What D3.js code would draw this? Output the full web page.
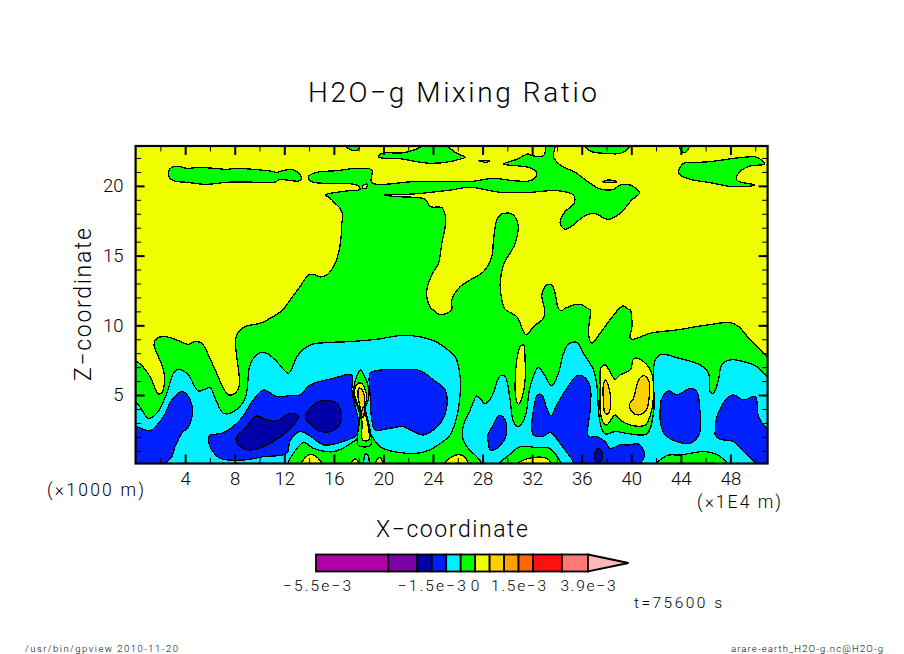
<!DOCTYPE html>
<html><head><meta charset="utf-8">
<script src="https://cdn.jsdelivr.net/npm/d3@7"></script>
<style>html,body{margin:0;padding:0;background:#fff}svg{display:block}text{font-family:Roboto,"Liberation Sans",sans-serif;font-weight:300;fill:#000}</style>
</head><body><svg id="c" width="904" height="654"></svg>
<script>
// Levels (in units of 1e-3) and colours of the H2O-g mixing ratio
const levels=[-5.5,-3,-2,-1.5,-1,-0.5,0,0.5,1,1.5,2,3,3.9];
const levelColors=["#b000a8","#7a00a8","#0000a8","#0020ff","#00f0ff","#00ff00","#f0ff00","#ffd000","#ffa000","#ff6800","#ff1010","#ff7878","#ffb8b8"];
const tipValue=5.3;
const barTicks=[-5.5,-1.5,0,1.5,3.9];
const barTickLabels=["\u22125.5e\u22123","\u22121.5e\u22123","0","1.5e\u22123","3.9e\u22123"];
const xMajor=[4,8,12,16,20,24,28,32,36,40,44,48];
const xMinor=[2,6,10,14,18,22,26,30,34,38,42,46,50];
const zMajor=[5,10,15,20];
const zMinor=[1,2,3,4,6,7,8,9,11,12,13,14,16,17,18,19,21,22];

// Contour regions, [x (1e4 m), z (1000 m)]
const greenMain=[[-1,7.4],[0.09,7.4],[1.17,6.32],[1.57,5.48],[1.84,5.08],[2.11,5.17],[2.33,5.84],[2.25,6.8],[1.84,7.75],[1.49,8.59],[1.71,9.07],[2.38,9.19],[3.32,8.95],[4.26,8.64],[4.8,8.83],[5.34,8.71],[5.88,7.87],[6.42,6.8],[7.09,5.48],[7.49,5.01],[8.03,5.13],[8.38,5.72],[8.3,6.8],[8.08,8.47],[8.16,9.31],[8.84,9.91],[10.05,10.14],[10.85,10.5],[11.53,10.86],[11.93,11.15],[12.47,11.82],[13.27,12.77],[13.95,13.61],[14.35,13.66],[14.89,13.47],[15.43,13.61],[15.97,14.21],[16.37,15.16],[16.56,16.12],[16.64,17.32],[16.72,17.91],[16.5,18.39],[16.1,18.75],[15.7,19.11],[15.35,19.35],[16.23,19.54],[17.31,19.66],[18.12,19.75],[17.85,20.06],[16.23,20.18],[14.22,20.3],[13.95,20.66],[14.62,20.97],[16.23,21.09],[17.85,21.26],[19.06,21.14],[19.06,20.23],[22.42,20.3],[26.19,20.33],[26.99,20.3],[28.88,20.54],[30.49,20.37],[31.84,20.37],[32.32,20.66],[32.32,21.02],[31.7,21.33],[29.68,21.57],[30.63,21.86],[31.7,22.29],[31.97,22.17],[32.91,22.17],[33.1,22.69],[33.1,23.5],[33.85,23.5],[33.85,22.81],[33.72,22.09],[34.26,21.5],[35.47,20.97],[36.14,20.54],[36.68,20.18],[37.49,19.78],[38.56,19.75],[39.1,20.06],[39.91,20.06],[40.66,19.51],[40.04,18.99],[39.1,18.03],[38.16,17.6],[36.95,18.03],[36.14,17.79],[35.2,17.12],[34.66,16.89],[34.26,17.32],[34.66,18.15],[35.39,18.75],[35.33,19.35],[33.99,19.66],[31.84,19.54],[29.42,19.54],[26.99,19.9],[25.38,19.7],[22.42,19.42],[20,19.35],[21.08,19.23],[22.42,19.18],[23.36,19.04],[23.77,18.51],[24.71,18.44],[24.98,17.91],[24.98,17.08],[24.71,15.88],[24.44,14.45],[23.9,13.61],[23.5,12.53],[23.55,11.82],[23.9,11.15],[24.04,11.1],[24.44,10.81],[25.11,10.86],[25.51,11.15],[25.51,11.82],[26.19,12.77],[26.99,13.25],[28.07,13.85],[28.74,14.92],[28.88,16.12],[29.15,17.55],[29.55,17.98],[30.36,17.98],[30.84,17.32],[30.63,15.88],[29.68,14.33],[29.42,13.01],[29.55,11.82],[29.82,11.15],[30.76,10.62],[31.51,9.31],[32.11,9.91],[32.91,10.5],[33,11.1],[32.78,12.18],[33.18,12.89],[33.58,12.89],[33.85,12.3],[34.12,11.22],[34.39,11.05],[34.66,11.22],[35.87,11.51],[36.46,11.22],[36.68,11.1],[36.54,9.43],[36.81,8.71],[37.49,9.43],[38.16,10.26],[38.7,10.86],[38.96,11.15],[39.37,11.39],[39.77,11.15],[39.91,11.1],[40.05,9.91],[39.91,9.07],[40.18,9],[41.53,9.43],[43.68,9.67],[46.1,10.02],[47.98,10.19],[48.66,9.91],[49.6,8.95],[50.94,7.75],[52,6.8],[52,-1],[-1,-1]];
const greenCigar=[[2.65,21.02],[2.92,21.33],[3.46,21.4],[4.13,21.26],[5.21,21.33],[6.28,21.26],[7.36,21.19],[8.16,21.26],[10.05,21.14],[10.85,21.07],[11.39,20.97],[11.93,21.11],[12.74,21.14],[13.28,20.78],[13.41,20.54],[13.14,20.35],[12.2,20.42],[11.66,20.47],[11.26,20.28],[10.05,20.26],[8.43,20.28],[7.36,20.26],[5.61,20.11],[4.13,20.26],[3.19,20.33],[2.78,20.54]];
const greenTop1=[[16.64,23.17],[17.04,22.76],[17.45,22.57],[17.9,22.57],[18.25,23.17]];
const greenTop2=[[19.6,22.09],[19.87,22.33],[21.61,22.38],[22.96,22.76],[23.36,23.05],[24.98,23.05],[25.38,22.69],[25.92,22.33],[26.59,22.05],[25.92,21.86],[25.38,21.74],[23.77,21.62],[22.69,21.74],[21.08,21.98],[20,21.98]];
const greenDash1=[[27.67,21.81],[28.55,21.81],[28.34,21.69],[27.94,21.74]];
const greenDash2=[[37.7,20.3],[38.16,20.42],[38.83,20.3],[38.29,20.23]];
const greenTop3=[[36.14,23.1],[36.68,22.5],[38.02,22.33],[39.1,22.33],[39.77,22.69],[40.04,23.1]];
const greenTop4=[[43.89,23.1],[44.08,22.45],[44.34,22.38],[44.8,23.1]];
const greenRight=[[43.81,21.02],[44.21,21.62],[44.75,21.66],[46.36,21.74],[49.05,22.05],[50.13,22.05],[50.75,21.57],[49.59,21.43],[48.92,21.14],[48.51,20.66],[48.57,20.37],[50,20.06],[48.25,19.94],[46.36,20.23],[44.75,20.47],[43.94,20.78]];
const yellowNeck=[[18.39,20.06],[18.71,20.11],[18.6,19.82],[18.33,19.82]];
const yellowSpindle=[[30.63,5.96],[30.76,7.52],[31.03,8.47],[31.3,8.59],[31.43,7.52],[31.43,6.08],[31.16,4.77],[30.89,4.34],[30.68,4.77]];
const yellowBlob=[[37.54,6.92],[37.89,7.16],[38.29,6.68],[38.7,6.13],[39.1,6.44],[39.91,6.8],[40.23,7.63],[40.98,7.4],[41.65,6.56],[41.79,5.36],[41.65,3.93],[41.12,2.85],[39.91,2.85],[39.1,3.21],[38.7,3.57],[38.02,2.85],[37.7,3.09],[37.49,3.93],[37.49,5.6]];
const orangeLeft=[[37.75,5.72],[37.94,6.08],[38.24,5.36],[38.35,4.65],[38.16,3.69],[37.89,3.69],[37.75,4.65]];
const orangeRight=[[39.83,4.29],[40.18,4.77],[40.59,6.08],[40.99,6.39],[41.39,6.08],[41.47,5.24],[41.21,3.93],[40.59,3.57],[40.05,3.81]];
const cyanLeft=[[-1,4.6],[0.09,4.41],[1.04,3.33],[1.71,3.69],[2.52,5.13],[3.05,6.56],[3.46,6.85],[4.26,6.44],[5.07,5.29],[6.01,5.53],[6.42,4.77],[7.09,3.69],[7.9,3.81],[8.84,4.77],[9.24,7.16],[9.91,7.99],[10.59,7.99],[11.39,7.4],[12.33,6.56],[12.74,7.16],[13.01,7.75],[14.08,8.59],[15.43,8.76],[17.31,8.83],[19.46,9],[21.75,9.28],[24.04,8.9],[25.38,8.11],[25.79,7.75],[26.19,6.32],[26.19,5.13],[25.92,3.45],[25.38,2.14],[24.98,1.78],[23.36,0.94],[21.89,0.82],[19.73,1.3],[18.93,2.26],[18.52,2.74],[18.25,2.26],[17.58,1.66],[15.97,0.94],[14.35,1.18],[13.55,1.59],[12.47,0.46],[12.06,-0.2],[-1,-0.5]];
const cyanRight=[[26.46,2.85],[26.99,3.93],[27.53,4.93],[27.8,4.77],[28.2,4.36],[28.74,4.89],[29.42,6.37],[29.82,6.32],[30.22,4.65],[30.49,3.09],[30.89,2.73],[31.43,3.45],[31.84,5.6],[32.51,6.99],[32.91,6.56],[33.58,5.67],[34.12,6.56],[34.53,7.99],[34.93,8.64],[35.6,8.78],[36.14,7.99],[36.95,6.8],[37.22,5.72],[37.35,3.93],[37.49,2.97],[37.89,2.21],[38.7,2.38],[39.91,2.21],[41.25,2.21],[41.79,3.69],[41.92,7.52],[42.46,7.92],[43.67,7.68],[45.56,7.16],[46.23,6.56],[46.36,5.24],[46.63,5.13],[47.03,6.08],[47.3,7.16],[47.98,7.52],[49.05,7.4],[50.13,7.04],[51.07,6.2],[52,5.5],[52,-0.5],[28.8,-0.5],[27.53,0.58],[26.73,1.3],[26.4,1.9]];
const greenBump1=[[29.1,-0.2],[30.2,0.75],[31.03,1.3],[32.2,1.25],[33.45,1.15],[34.3,-0.2]];
const greenBump2=[[41.85,-0.2],[42.87,0.66],[43.95,0.7],[45.97,0.94],[47.18,0.58],[47.9,-0.2]];
const yellowBump1=[[13.2,-0.3],[13.95,0.7],[14.49,0.66],[15.2,-0.3]];
const yellowBump2=[[17.25,-0.2],[17.72,0.42],[18.15,-0.2]];
const yellowBump3=[[19.3,-0.2],[19.6,0.5],[19.75,0.5],[20.05,-0.2]];
const yellowBump4=[[24.7,-0.2],[25.71,0.66],[26.46,0.62],[26.9,-0.2]];
const yellowBump5=[[30.4,-0.2],[31.57,0.42],[33.18,0.46],[33.65,-0.2]];
const cyanBump=[[18.45,-0.2],[18.5,0.7],[18.6,0.78],[18.75,0.7],[18.8,-0.2]];
const blue1=[[-1,3],[0.09,2.73],[1.17,2.45],[2.25,3.45],[2.92,4.65],[3.73,5.24],[4.26,4.89],[4.59,3.81],[4.26,2.73],[3.73,2.26],[3.19,1.3],[2.92,0.58],[2.38,0.1],[2.1,-0.4],[-1,-0.5]];
const blue2=[[5.93,2.07],[7.09,2.3],[8.43,3.21],[9.51,4.65],[10.32,5.36],[11.39,4.89],[12.47,4.96],[13.28,5.01],[14.08,5.72],[15.97,6.2],[17.45,6.44],[17.45,5.36],[17.72,4.17],[17.98,3.21],[17.98,2.26],[17.45,1.9],[15.16,1.42],[14.35,1.9],[13.28,2.38],[12.47,1.73],[12.2,0.82],[10.32,0.58],[8.7,0.34],[6.82,0.46],[6.15,1.06],[5.93,1.54]];
const blue3=[[18.93,6.56],[19.46,6.75],[21.62,6.85],[22.96,6.75],[24.04,6.08],[24.98,5.36],[25.11,4.17],[24.58,2.97],[23.23,2.14],[22.42,2.38],[21.62,2.73],[20.54,2.62],[19.33,2.5],[19.06,3.21],[18.93,4.89]];
const blue4=[[28.42,2.14],[28.88,2.85],[29.28,3.52],[29.63,3.45],[29.95,2.73],[29.82,1.9],[29.15,1.18],[28.61,1.06],[28.47,1.54]];
const blue5=[[31.97,2.62],[32.11,3.93],[32.43,5.01],[32.78,5.01],[33.18,4.05],[33.53,3.5],[33.99,4.29],[34.8,5.48],[35.6,6.39],[36.14,6.32],[36.68,5.6],[36.68,3.93],[36.54,2.02],[37.22,2.02],[37.89,1.66],[38.29,1.18],[39.1,1.42],[39.77,1.42],[40.58,1.49],[40.98,1.06],[41.06,0.58],[40.71,0.06],[40.58,-0.3],[35.87,-0.3],[35.06,0.58],[34.26,1.54],[33.72,2.14],[33.45,2.3],[32.78,2.02],[32.11,2.14]];
const blue6=[[42.34,4.17],[42.47,4.77],[43.01,5.29],[43.68,5.01],[44.76,5.48],[45.29,5.24],[45.51,4.17],[45.51,2.26],[44.76,1.54],[43.68,1.66],[42.74,2.14],[42.39,2.85]];
const blue7=[[46.77,2.38],[46.91,3.45],[47.72,4.77],[48.25,5.01],[49.06,4.65],[50,4.89],[50.27,3.45],[50.94,2.62],[52,2.3],[52,-0.5],[50.14,-0.13],[50,0.15],[49.06,0.94],[48.25,1.66],[47.18,1.83],[46.77,2.14]];
const navy1=[[8.11,1.9],[8.97,2.73],[9.78,3.5],[10.59,3.21],[11.39,3.14],[12.47,3.69],[13.14,3.5],[12.74,2.85],[12.06,2.26],[10.32,1.3],[9.24,1.06],[8.43,1.3]];
const navy2=[[13.68,3.4],[14.76,4.53],[15.97,4.53],[16.51,4.05],[16.51,2.97],[15.7,2.38],[14.76,2.45],[14.08,2.97]];
const navy3=[[37.03,0.7],[37.3,1.18],[37.62,0.94],[37.7,0.58],[37.35,0.15],[37.08,0.34]];
const spikeGreen=[[17.62,5.6],[17.89,6.43],[18.16,6.79],[18.43,6.43],[18.75,5.72],[18.81,4.76],[18.54,4.04],[18.81,2.97],[18.97,1.41],[17.95,1.41],[18.11,3.57],[17.89,4.16],[17.62,4.88]];
const spikeYellow=[[17.68,5.43],[17.95,5.84],[18.22,5.84],[18.54,5.36],[18.65,4.76],[18.43,4.04],[18.7,3.09],[18.81,1.77],[18.32,1.77],[18.27,3.09],[18.11,3.8],[17.89,4.4],[17.68,5]];
const spikeOrange=[[17.95,4.88],[18,5.48],[18.22,5.43],[18.48,4.88],[18.48,4.28],[18.35,3.45],[18.22,3.57],[18.11,4.16]];
const spikeCore=[[18.27,3.92],[18.43,4.16],[18.38,3.37],[18.27,3.45]];

// paint order: [region, mixing-ratio value inside it]
const regions=[[greenMain,-0.25],[greenCigar,-0.25],[greenTop1,-0.25],[greenTop2,-0.25],[greenDash1,-0.25],[greenDash2,-0.25],[greenTop3,-0.25],[greenTop4,-0.25],[greenRight,-0.25],[yellowNeck,0.25],[yellowSpindle,0.25],[yellowBlob,0.25],[orangeLeft,0.75],[orangeRight,0.75],[cyanLeft,-0.75],[cyanRight,-0.75],[greenBump1,-0.25],[greenBump2,-0.25],[yellowBump1,0.25],[yellowBump2,0.25],[yellowBump3,0.25],[yellowBump4,0.25],[yellowBump5,0.25],[cyanBump,-0.75],[blue1,-1.25],[blue2,-1.25],[blue3,-1.25],[blue4,-1.25],[blue5,-1.25],[blue6,-1.25],[blue7,-1.25],[navy1,-1.75],[navy2,-1.75],[navy3,-1.75],[spikeGreen,-0.25],[spikeYellow,0.25],[spikeOrange,0.75],[spikeCore,1.25]];

const svg=d3.select("#c");
const x=d3.scaleLinear().domain([0,51]).range([135.6,767.6]);
const y=d3.scaleLinear().domain([0.09,22.86]).range([463.5,146]);
const color=d3.scaleThreshold().domain(levels.slice(1)).range(levelColors);

svg.append("defs").append("clipPath").attr("id","plot").append("rect")
 .attr("x",x(0)).attr("y",y(22.86)).attr("width",x(51)-x(0)).attr("height",y(0.09)-y(22.86));
const plot=svg.append("g").attr("clip-path","url(#plot)");
plot.append("rect").attr("x",x(0)).attr("y",y(22.86)).attr("width",x(51)-x(0)).attr("height",y(0.09)-y(22.86)).attr("fill",color(0.25));
const line=d3.line().x(d=>x(d[0])).y(d=>y(d[1])).curve(d3.curveCatmullRomClosed.alpha(0.5));
plot.selectAll("path").data(regions).join("path")
 .attr("d",d=>line(d[0])).attr("fill",d=>color(d[1]))
 .attr("stroke","#000").attr("stroke-width",1.3).attr("stroke-linejoin","round").attr("shape-rendering","crispEdges");

const H=y(0.09),T=y(22.86),L=x(0),R=x(51);
const frame=svg.append("g");
function drawAxis(gen,tr,major,minor,labels,pad){
 const g=frame.append("g").attr("transform",tr);
 const m=gen().scale(gen.s).tickValues(minor).tickSize(-5.5).tickFormat("");
 g.append("g").call(m);
 const M=gen().scale(gen.s).tickValues(major).tickSize(-9).tickPadding(pad).tickFormat(labels?d3.format("d"):"");
 const mg=g.append("g").call(M);
 mg.selectAll("line").attr("stroke-width",2);
 g.selectAll(".domain").remove();
 g.selectAll("line").attr("stroke","#000");
 mg.selectAll("text").attr("font-size",18.5).attr("fill","#000");
 mg.attr("font-family",null);
}
const bottom=()=>d3.axisBottom(); bottom.s=x;
const top_=()=>d3.axisTop(); top_.s=x;
const left=()=>d3.axisLeft(); left.s=y;
const right=()=>d3.axisRight(); right.s=y;
drawAxis(bottom,`translate(0,${H})`,xMajor,xMinor,true,8.4);
drawAxis(top_,`translate(0,${T})`,xMajor,xMinor,false,3);
drawAxis(left,`translate(${L},0)`,zMajor,zMinor,true,12);
drawAxis(right,`translate(${R},0)`,zMajor,zMinor,false,3);
frame.append("rect").attr("x",L).attr("y",T).attr("width",R-L).attr("height",H-T).attr("fill","none").attr("stroke","#000").attr("stroke-width",2.2);

function label(t,px,py,size,len,anchor,rot,adjust){
 const e=svg.append("text").text(t).attr("font-size",size).attr("text-anchor",anchor||"start").attr("x",px).attr("y",py);
 if(len)e.attr("textLength",len).attr("lengthAdjust",adjust||"spacing");
 if(rot)e.attr("transform",`rotate(${rot} ${px} ${py})`);
 return e;
}
label("H2O\u2212g Mixing Ratio",308,102,28,289);
label("X\u2212coordinate",376,537,23,152);
label("Z\u2212coordinate",91,381,23,153,"start",-90);
label("(\u00d71000 m)",47,495.5,17.5,97);
label("(\u00d71E4 m)",697,508,17.5,84);
label("t=75600 s",634,608,15.5,88);
label("/usr/bin/gpview   2010-11-20",25,652,9.5,153);
label("arare-earth_H2O-g.nc@H2O-g",731,652,9.5,152);

// colour bar
const bar=d3.scaleLinear().domain([-5.5,3.9]).range([316,588]);
const by0=554.5,by1=571.5;
const cb=svg.append("g");
cb.selectAll("rect").data(d3.pairs(levels)).join("rect")
 .attr("x",d=>bar(d[0])).attr("y",by0).attr("width",d=>bar(d[1])-bar(d[0])).attr("height",by1-by0)
 .attr("fill",d=>color((d[0]+d[1])/2)).attr("stroke","#000").attr("stroke-width",1.8);
cb.append("path").attr("d",d3.line()([[bar(3.9),by0],[bar(tipValue),(by0+by1)/2],[bar(3.9),by1]])+"Z")
 .attr("fill",color(tipValue)).attr("stroke","#000").attr("stroke-width",1.8);
barTicks.forEach((v,i)=>{
 const neg=v<0, zero=v===0;
 label(barTickLabels[i],bar(v)+(v===-5.5?1:0),590.5,15.5,zero?null:(neg?68:55),"middle");
});
</script></body></html>
